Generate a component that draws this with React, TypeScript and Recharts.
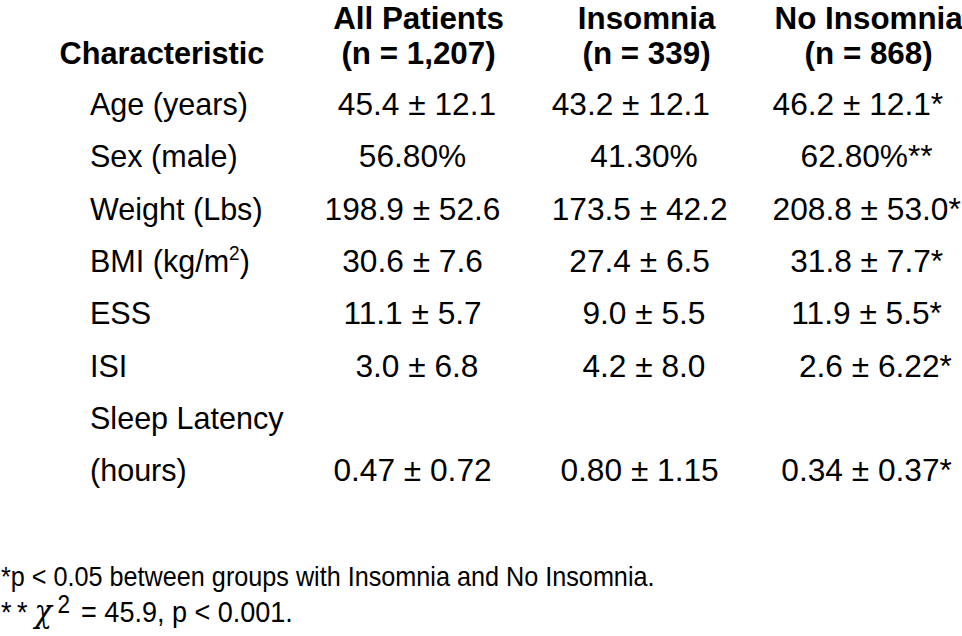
import { ScatterChart, Scatter, XAxis, YAxis, Legend } from "recharts";

const characteristics = [
  "Age (years)",
  "Sex (male)",
  "Weight (Lbs)",
  "BMI (kg/m²)",
  "ESS",
  "ISI",
  "Sleep Latency\n(hours)",
];

const groups = ["All Patients", "Insomnia", "No Insomnia"];
const groupN = ["(n = 1,207)", "(n = 339)", "(n = 868)"];

// cell text as printed (padding spaces kept as in the source table)
const allPatients = [" 45.4 ± 12.1", "56.80%", "198.9 ± 52.6", "30.6 ± 7.6", "11.1 ± 5.7", " 3.0 ± 6.8", "0.47 ± 0.72"];
const insomnia = ["43.2 ± 12.1  ", " 41.30%", "173.5 ± 42.2", "27.4 ± 6.5", " 9.0 ± 5.5", " 4.2 ± 8.0", "0.80 ± 1.15"];
const noInsomnia = ["46.2 ± 12.1*  ", "62.80%**", "208.8 ± 53.0*", "31.8 ± 7.7*", "11.9 ± 5.5*", "  2.6 ± 6.22*", "0.34 ± 0.37*"];

const footnote1 = "*p < 0.05 between groups with Insomnia and No Insomnia.";
const footnote2 = " = 45.9, p < 0.001.";

const FONT = "'Liberation Sans', Arial, Helvetica, sans-serif";
const FS = 32;
const SX_LABEL = 0.955;
const SX_VALUE = 0.99;
const SXB = 0.98;
const LINE_GAP = 52;
const HEADER_NUDGE = [6, 7, 2];

const toRows = (values: string[], col: number) => values.map((text, row) => ({ col, row, text }));

function rich(str: string) {
  const parts = str.split("²");
  if (parts.length === 1) return str;
  return (
    <>
      {parts[0]}
      <tspan fontSize={20} dy={-12}>2</tspan>
      <tspan dy={12}>{parts[1]}</tspan>
    </>
  );
}

const HeaderTick = (props: any) => {
  const { x, y, payload } = props;
  const i = payload.value;
  const cx = x + HEADER_NUDGE[i];
  return (
    <g fontFamily={FONT} fontWeight="bold" fontSize={FS} fill="#000" textAnchor="middle">
      <text transform={`translate(${cx},${y - 48}) scale(${SXB},1)`}>{groups[i]}</text>
      <text transform={`translate(${cx},${y - 13}) scale(${SXB},1)`}>{groupN[i]}</text>
    </g>
  );
};

const RowTick = (props: any) => {
  const { y, payload } = props;
  const lines = characteristics[payload.value].split("\n");
  return (
    <g fontFamily={FONT} fontSize={FS} fill="#000">
      {lines.map((line, k) => (
        <text key={k} transform={`translate(90,${y + 12 + k * LINE_GAP}) scale(${SX_LABEL},1)`} textAnchor="start">
          {rich(line)}
        </text>
      ))}
    </g>
  );
};

const CellText = (props: any) => {
  const { cx, cy, payload } = props;
  const extra = (characteristics[payload.row].split("\n").length - 1) * LINE_GAP;
  return (
    <text
      transform={`translate(${cx},${cy + 12 + extra}) scale(${SX_VALUE},1)`}
      textAnchor="middle"
      fontFamily={FONT}
      fontSize={FS}
      fill="#000"
      style={{ whiteSpace: "pre" }}
    >
      {payload.text}
    </text>
  );
};

const Footnotes = () => (
  <div
    style={{
      fontFamily: FONT,
      fontSize: 28,
      lineHeight: "35px",
      color: "#000",
      textAlign: "left",
      whiteSpace: "pre",
      transform: "scaleX(0.9)",
      transformOrigin: "left top",
    }}
  >
    <div>{footnote1}</div>
    <div style={{ fontSize: 30 }}>
      <span style={{ letterSpacing: 6 }}>**</span>
      <i style={{ fontFamily: "'DejaVu Serif', serif", fontSize: 32, lineHeight: 0, marginLeft: 2 }}>χ</i>
      <span style={{ fontSize: 25, verticalAlign: 9, lineHeight: 0, marginLeft: 6, marginRight: 4 }}>2</span>
      {footnote2}
    </div>
  </div>
);

export default function App() {
  return (
    <div style={{ position: "absolute", left: 0, top: 0, width: 962, height: 636, background: "#fff" }}>
      <ScatterChart width={962} height={636} margin={{ top: 0, right: 0, bottom: 193, left: 0 }}>
        <XAxis
          type="number"
          dataKey="col"
          orientation="top"
          domain={[-0.5, 2.42]}
          ticks={[0, 1, 2]}
          interval={0}
          height={77}
          axisLine={false}
          tickLine={false}
          tickSize={0}
          tickMargin={0}
          tick={<HeaderTick />}
        />
        <YAxis
          type="number"
          dataKey="row"
          domain={[-0.5, 6.5]}
          reversed
          ticks={[0, 1, 2, 3, 4, 5, 6]}
          interval={0}
          width={299}
          axisLine={false}
          tickLine={false}
          tick={<RowTick />}
          label={{
            content: () => (
              <text
                transform={`translate(162,64) scale(0.96,1)`}
                textAnchor="middle"
                fontFamily={FONT}
                fontWeight="bold"
                fontSize={FS}
                fill="#000"
              >
                Characteristic
              </text>
            ),
          }}
        />
        <Scatter data={toRows(allPatients, 0)} shape={CellText} isAnimationActive={false} />
        <Scatter data={toRows(insomnia, 1)} shape={CellText} isAnimationActive={false} />
        <Scatter data={toRows(noInsomnia, 2)} shape={CellText} isAnimationActive={false} />
        <Legend
          layout="horizontal"
          verticalAlign="middle"
          align="center"
          wrapperStyle={{ top: 559, left: 1, width: 962 }}
          content={() => <Footnotes />}
        />
      </ScatterChart>
    </div>
  );
}
